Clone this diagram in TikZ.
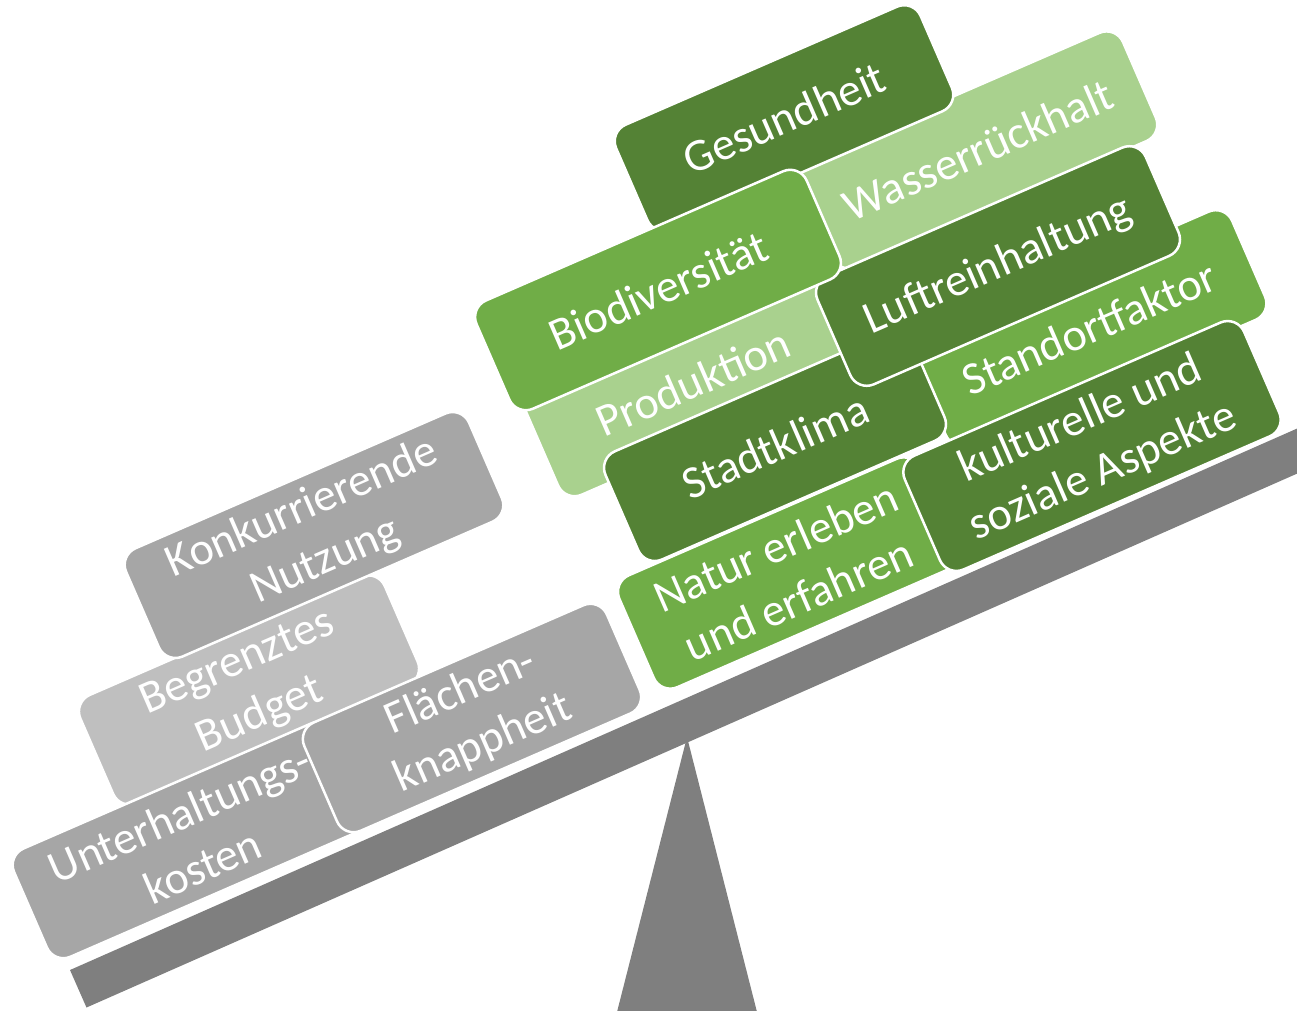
\documentclass[tikz,border=0pt]{standalone}
\usepackage{fontspec}
\setmainfont{Carlito}

\definecolor{greenD}{HTML}{548235}
\definecolor{greenM}{HTML}{70AD47}
\definecolor{greenL}{HTML}{A9D18E}
\definecolor{grayM}{HTML}{A6A6A6}
\definecolor{grayL}{HTML}{BFBFBF}
\definecolor{beamgray}{HTML}{7F7F7F}

\begin{document}
\begin{tikzpicture}[
    x=1pt, y=-1pt,
    block/.style={draw=white, line width=2.5pt, rounded corners=18pt, rotate=23.5,
      text=white, align=center, inner sep=0pt, minimum height=118pt,
      font=\fontsize{46}{57}\selectfont}
    ]
    \useasboundingbox (0,0) rectangle (1297,1010);
    \clip (0,0) rectangle (1297,1010);

    % fulcrum and beam
    \fill[beamgray] (687,737) -- (617,1012) -- (757,1012) -- cycle;
    \fill[beamgray] (70,970) -- (1330,414) -- (1346.5,451.8) -- (86.5,1007.5) -- cycle;

    % left side
    \node[block, fill=grayL, minimum width=332pt] (budget) at (249,690) {Begrenztes\\Budget};
    \node[block, fill=grayM, minimum width=374pt] (nutzung) at (314,535) {Konkurrierende\\Nutzung};
    \node[block, fill=grayM, minimum width=350pt] (kosten) at (191,840) {Unterhaltungs-\\kosten};
    \node[block, fill=grayM, minimum width=330pt] (flaeche) at (472,718) {Flächen-\\knappheit};

    % right side
    \node[block, fill=greenL, minimum width=352pt] (wasser) at (978,150) {Wasserrückhalt};
    \node[block, fill=greenD, minimum width=332pt, minimum height=114pt] (gesund) at (784,118) {Gesundheit};
    \node[block, fill=greenL, minimum width=330pt] (prod) at (693,382) {Produktion};
    \node[block, fill=greenM, minimum width=348pt] (standort) at (1089,328) {Standortfaktor};
    \node[block, fill=greenD, minimum width=334pt] (klima) at (775,446) {Stadtklima};
    \node[block, fill=greenD, minimum width=358pt] (luft) at (998,266) {Luftreinhaltung};
    \node[block, fill=greenM, minimum width=360pt] (bio) at (658,290) {Biodiversität};
    \node[block, fill=greenM, minimum width=328pt, minimum height=122pt] (natur) at (787,573) {Natur erleben\\und erfahren};
    \node[block, fill=greenD, minimum width=370pt, minimum height=124pt] (kultur) at (1092,446) {kulturelle und\\soziale Aspekte};

\end{tikzpicture}
\end{document}
